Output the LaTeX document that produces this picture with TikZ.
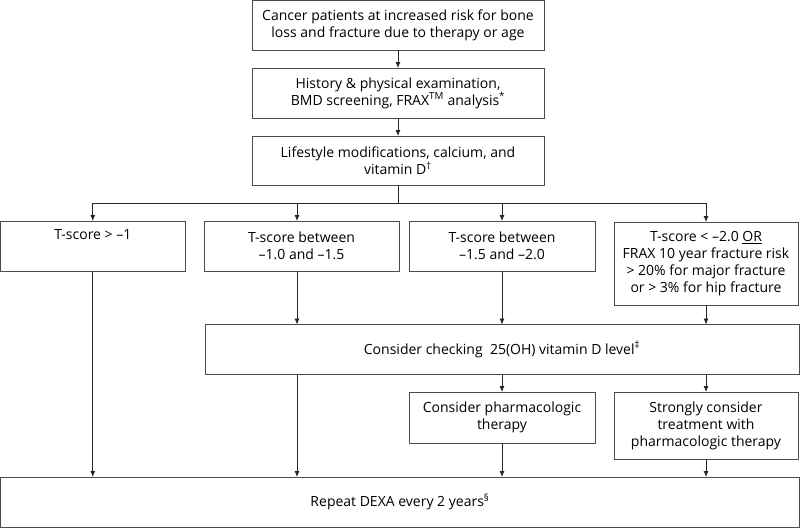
\documentclass[tikz,border=0pt]{standalone}
\usepackage{fontspec}
\setmainfont{Open Sans}
\usetikzlibrary{arrows.meta}

\begin{document}
\begin{tikzpicture}[
          x=1pt, y=-1pt,
          font=\fontsize{14}{17}\selectfont,
          box/.style={draw=black!70, line width=0.8pt, align=center,
                      inner sep=0pt, outer sep=0pt},
          link/.style={draw=black!85, line width=0.8pt},
          arr/.style={link, -{Latex[length=6pt,width=5pt]}}
        ]
        \useasboundingbox (0,0) rectangle (800,528);

        % top chain
        \node[box, minimum width=292, minimum height=49.5] (risk) at (398,25.3)
          {Cancer patients at increased risk for bone\\loss and fracture due to therapy or age};
        \node[box, minimum width=292, minimum height=50] (hist) at (398,93)
          {History \& physical examination,\\BMD screening, FRAX\textsuperscript{TM} analysis\textsuperscript{*}};
        \node[box, minimum width=292, minimum height=49] (life) at (398,160.5)
          {Lifestyle modifications, calcium, and\\vitamin D\textsuperscript{†}};

        % T-score row
        \node[box, minimum width=184.5, minimum height=50] (tA) at (92.8,246)
          {T-score > –1\\\strut};
        \node[box, minimum width=195, minimum height=50] (tB) at (301.5,246)
          {T-score between\\–1.0 and –1.5};
        \node[box, minimum width=186, minimum height=50] (tC) at (502,246)
          {T-score between\\–1.5 and –2.0};
        \node[box, minimum width=184, minimum height=83] (tD) at (706,263.5)
          {T-score < –2.0 \underline{OR}\\FRAX 10 year fracture risk\\> 20\% for major fracture\\or > 3\% for hip fracture};

        % lower part
        \node[box, minimum width=594, minimum height=50] (vitd) at (502,349.5)
          {Consider checking\ \ 25(OH) vitamin D level\textsuperscript{‡}};
        \node[box, minimum width=186, minimum height=51] (pharm) at (502,417.5)
          {Consider pharmacologic\\therapy};
        \node[box, minimum width=184, minimum height=67] (strong) at (706,425.5)
          {Strongly consider\\treatment with\\pharmacologic therapy};
        \node[box, minimum width=798.5, minimum height=50] (rep) at (400,502)
          {Repeat DEXA every 2 years\textsuperscript{§}};

        \coordinate (split) at (398,203);
        \coordinate (colB) at (297,0);

        % Draw the chain at the top
        \draw[arr] (risk) -- (hist);
        \draw[arr] (hist) -- (life);
        \draw[link] (life) -- (split);

        % Draw the split to the four T-score boxes
        \draw[arr] (split) -| (tA);
        \draw[arr] (split -| colB) -- (colB |- tB.north);
        \draw[arr] (split) -| (tC);
        \draw[arr] (split) -| (tD);

        % Draw the links down to the bottom
        \draw[arr] (tA) -- (tA |- rep.north);
        \draw[arr] (tB.south -| colB) -- (colB |- vitd.north);
        \draw[arr] (tC) -- (tC |- vitd.north);
        \draw[arr] (tD) -- (tD |- vitd.north);
        \draw[arr] (vitd.south -| colB) -- (colB |- rep.north);
        \draw[arr] (pharm |- vitd.south) -- (pharm);
        \draw[arr] (strong |- vitd.south) -- (strong);
        \draw[arr] (pharm) -- (pharm |- rep.north);
        \draw[arr] (strong) -- (strong |- rep.north);
      \end{tikzpicture}
\end{document}
